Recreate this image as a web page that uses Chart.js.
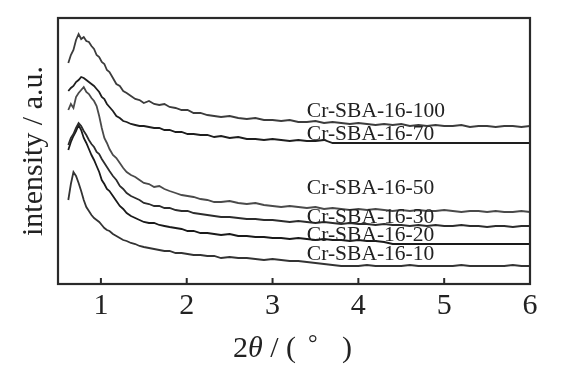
<!DOCTYPE html>
<html>
<head>
<meta charset="utf-8">
<script src="https://cdn.jsdelivr.net/npm/chart.js@4/dist/chart.umd.min.js"></script>
<style>
html,body{margin:0;padding:0;background:#fff;}
#wrap{width:579px;height:379px;position:relative;}
</style>
</head>
<body>
<div id="wrap"><canvas id="c" width="579" height="379"></canvas></div>
<script>
// 2θ grid (degrees)
const twoTheta = [0.62,0.65,0.68,0.71,0.74,0.77,0.80,0.83,0.86,0.89,0.92,0.95,0.98,1.01,1.04,1.07,1.10,
  1.14,1.18,1.22,1.26,1.30,
  1.35,1.40,1.45,1.50,
  1.56,1.62,1.68,1.74,1.80,
  1.87,1.94,2.01,2.08,
  2.16,2.24,2.32,2.40,
  2.5,2.6,2.7,2.8,2.9,3.0,3.1,3.2,3.3,3.4,3.5,3.6,3.7,3.8,3.9,4.0,4.1,4.2,4.3,4.4,4.5,4.6,4.7,4.8,4.9,5.0,5.1,5.2,5.3,5.4,5.5,5.6,5.7,5.8,5.9,6.0];

// intensity (a.u., offset curves)
const crSBA100 = [221,229,234,244,250,245,247,243,242,238,235,229,227,222,220,214,212,
  206,200,198,193,191, 188,185,184,181, 183,180,179,180,177, 176,174,174,171, 171,169,168,167,
  168,166,165,166,164,164,163,164,162,162,163,161,162,161,160,161,160,159,160,159,160,158,159,158,159,158,158,159,157,158,158,157,158,158,157,158];
const crSBA70 = [193,196,198,202,204,207,206,204,202,200,198,195,192,187,185,180,177,
  173,168,166,163,162, 160,159,158,158, 157,156,156,154,154, 152,152,150,150, 149,149,147,148,
  146,147,145,145,144,145,144,143,144,143,143,144,
  141,141,141,141,141,141,141,141,141,141,141,141,141,141,141,141,141,141,141,141,141,141,141,141];
const crSBA50 = [174,180,176,187,191,194,197,192,190,186,183,178,168,156,146,141,135,
  129,126,121,116,112, 109,107,104,101, 100,97,98,95,93, 91,89,88,87, 85,84,82,82,
  83,81,80,81,79,78,77,78,77,76,77,75,76,75,74,75,74,75,74,73,74,73,74,73,73,74,73,72,73,73,72,73,72,72,73,72];
const crSBA30 = [139,146,150,156,161,158,153,149,144,140,137,132,130,125,121,117,113,
  108,104,98,95,91, 88,86,84,81, 80,78,78,76,76, 74,73,73,71, 70,69,68,67,
  67,66,65,65,64,64,63,62,63,62,61,62,61,60,61,60,60,59,60,59,59,58,59,58,59,58,58,59,58,58,57,58,58,57,58,58];
const crSBA20 = [134,142,148,153,159,154,146,141,135,129,124,118,112,104,100,95,93,
  88,83,78,75,71, 68,66,64,62, 61,61,59,58,57, 56,55,53,53, 51,51,50,49,
  50,48,48,47,47,46,46,45,46,45,44,45,44,44,43,44,43,43,42,
  40,40,40,40,40,40,40,40,40,40,40,40,40,40,40,40,40];
const crSBA10 = [84,100,112,108,101,93,84,77,73,69,66,64,62,59,56,54,53,
  50,48,46,44,43, 41,40,38,37, 36,35,34,33,33, 31,31,30,29, 29,28,28,26,
  27,26,26,25,24,25,24,23,23,22,21,20,19,
  18,18,18,19,18,18,18,18,19,18,18,18,18,18,19,18,18,18,18,18,19,18,18];

const seriesNames = ['Cr-SBA-16-100','Cr-SBA-16-70','Cr-SBA-16-50','Cr-SBA-16-30','Cr-SBA-16-20','Cr-SBA-16-10'];
const seriesValues = [crSBA100, crSBA70, crSBA50, crSBA30, crSBA20, crSBA10];
const labelX = [3.4,3.4,3.4,3.4,3.4,3.4];
const labelY = [167,144,90,61,43,24];
const xTicks = [1,2,3,4,5,6];

const lineColors = ['#3c3c3c','#1e1e1e','#4a4a4a','#2c2c2c','#1a1a1a','#333333'];
const SERIF = '"Liberation Serif","DejaVu Serif",serif';

const datasets = seriesValues.map((vals, k) => ({
  label: seriesNames[k],
  data: twoTheta.map((x, i) => ({x: x, y: vals[i]})),
  borderColor: lineColors[k],
  borderWidth: 1.8,
  pointRadius: 0,
  tension: 0,
  fill: false
}));

const decor = {
  id: 'decor',
  afterDatasetsDraw(chart) {
    const {ctx, chartArea: a, scales} = chart;
    const xs = scales.x, ys = scales.y;
    ctx.save();
    // frame
    ctx.strokeStyle = '#2a2a2a';
    ctx.lineWidth = 2.2;
    ctx.strokeRect(a.left, a.top, a.right - a.left, a.bottom - a.top);
    // inward ticks
    ctx.lineWidth = 2;
    xTicks.forEach(v => {
      if (v >= 6) return;
      const px = xs.getPixelForValue(v);
      ctx.beginPath();
      ctx.moveTo(px, a.bottom);
      ctx.lineTo(px, a.bottom - 6);
      ctx.stroke();
    });
    // series labels
    ctx.fillStyle = '#222';
    ctx.font = '21.5px ' + SERIF;
    ctx.textAlign = 'left';
    ctx.textBaseline = 'alphabetic';
    seriesNames.forEach((n, k) => {
      ctx.fillText(n, xs.getPixelForValue(labelX[k]), ys.getPixelForValue(labelY[k]));
    });
    // y title
    ctx.save();
    ctx.translate(42, 151);
    ctx.rotate(-Math.PI / 2);
    ctx.font = '30px ' + SERIF;
    ctx.textAlign = 'center';
    ctx.fillText('intensity / a.u.', 0, 0);
    ctx.restore();
    // x title: 2θ / (°  )
    ctx.textAlign = 'left';
    let x0 = 233;
    ctx.font = '30px ' + SERIF;
    ctx.fillText('2', x0, 357); x0 += ctx.measureText('2').width;
    ctx.font = 'italic 30px ' + SERIF;
    ctx.fillText('θ', x0, 357); x0 += ctx.measureText('θ').width;
    ctx.font = '30px ' + SERIF;
    ctx.fillText(' / (', x0, 357);
    ctx.font = '24px ' + SERIF;
    ctx.fillText('°', 308, 351);
    ctx.font = '30px ' + SERIF;
    ctx.fillText(')', 342, 357);
    ctx.restore();
  }
};

new Chart(document.getElementById('c'), {
  type: 'line',
  data: { datasets },
  options: {
    responsive: false,
    animation: false,
    layout: { padding: { left: 58, right: 49, top: 18, bottom: 0 } },
    plugins: { legend: { display: false }, tooltip: { enabled: false } },
    scales: {
      x: {
        type: 'linear', min: 0.5, max: 6,
        afterBuildTicks: s => { s.ticks = xTicks.map(v => ({value: v})); },
        afterFit: s => { s.height = 95; },
        grid: { display: false, drawTicks: false },
        border: { display: false },
        ticks: { color: '#222', padding: 4, font: { family: SERIF, size: 30 }, maxRotation: 0, autoSkip: false }
      },
      y: {
        type: 'linear', min: 0, max: 266, display: false
      }
    }
  },
  plugins: [decor]
});
</script>
</body>
</html>
